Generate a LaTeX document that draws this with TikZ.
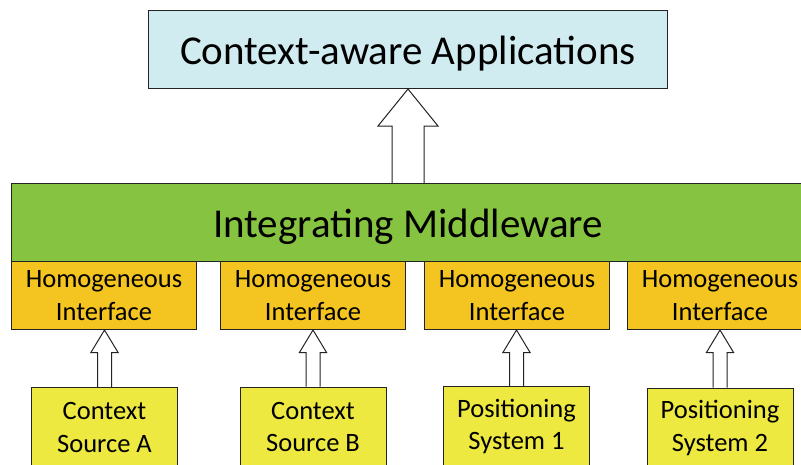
\documentclass[tikz,border=0pt]{standalone}
\usepackage{fontspec}
\setmainfont{Carlito}
\usetikzlibrary{calc}

\definecolor{appfill}{RGB}{208,236,240}
\definecolor{midfill}{RGB}{134,195,64}
\definecolor{ifacefill}{RGB}{244,196,32}
\definecolor{srcfill}{RGB}{238,233,64}
\definecolor{edgecol}{RGB}{35,35,35}

% hollow block arrow from the top of #1 up to the bottom of #2
% #3 shaft half width, #4 head half width, #5 head length
\newcommand\blockarrow[5]{%
  \draw[arrowbody] let \p1=(#1.north), \p2=(#2.south) in
    (\x1-#3,\y1) -- (\x1-#3,\y2-#5) -- (\x1-#4,\y2-#5) -- (\x1,\y2)
    -- (\x1+#4,\y2-#5) -- (\x1+#3,\y2-#5) -- (\x1+#3,\y1);
}

\begin{document}
\begin{tikzpicture}[x=1pt,y=-1pt,
  box/.style={draw=edgecol, line width=1pt, inner sep=0pt, anchor=north west, align=center},
  bigtext/.style={font=\fontsize{41}{48}\selectfont, text height=40pt, text depth=11pt},
  smalltext/.style={font=\fontsize{26.5}{32.4}\selectfont},
  appbox/.style={box, bigtext, fill=appfill, minimum width=519pt, minimum height=78pt},
  midbox/.style={box, bigtext, fill=midfill, minimum width=793pt, minimum height=78pt},
  ifacebox/.style={box, smalltext, fill=ifacefill, minimum width=185pt, minimum height=68pt},
  srcbox/.style={box, smalltext, fill=srcfill, minimum width=146pt, minimum height=80pt},
  arrowbody/.style={draw=edgecol, line width=1pt, fill=white, line join=miter}]

\useasboundingbox (0,0) rectangle (801,464);
\clip (0,0) rectangle (801,464);

% outlines of the boxes, placed first so the arrows can sit underneath
\path
  (148,10)  node[appbox, fill=none, draw=none] (app) {}
  (11,183)  node[midbox, fill=none, draw=none] (mid) {}
  (11,261)  node[ifacebox, fill=none, draw=none] (if1) {}
  (220,261) node[ifacebox, fill=none, draw=none] (if2) {}
  (424,261) node[ifacebox, fill=none, draw=none] (if3) {}
  (627,261) node[ifacebox, fill=none, draw=none] (if4) {}
  (31,387)  node[srcbox, fill=none, draw=none] (srcA) {}
  (239.5,386.5) node[srcbox, fill=none, draw=none] (srcB) {}
  (443,386) node[srcbox, fill=none, draw=none] (pos1) {}
  (646.5,387.5) node[srcbox, fill=none, draw=none] (pos2) {};

% arrows
\blockarrow{mid}{app}{16pt}{30pt}{37pt}
\blockarrow{srcA}{if1}{7pt}{13.7pt}{22.7pt}
\blockarrow{srcB}{if2}{7pt}{13.7pt}{22.7pt}
\blockarrow{pos1}{if3}{7pt}{13.7pt}{22.7pt}
\blockarrow{pos2}{if4}{7pt}{13.7pt}{22.7pt}

% boxes
\node[appbox] (appT) at (148,10) {Context-aware Applications};
\node[midbox] (midT) at (11,183) {Integrating Middleware};
\node[ifacebox] (if1T) at (11,261) {Homogeneous\\Interface};
\node[ifacebox] (if2T) at (220,261) {Homogeneous\\Interface};
\node[ifacebox] (if3T) at (424,261) {Homogeneous\\Interface};
\node[ifacebox] (if4T) at (627,261) {Homogeneous\\Interface};
\node[srcbox] (srcAT) at (31,387) {Context\\Source A};
\node[srcbox] (srcBT) at (239.5,386.5) {Context\\Source B};
\node[srcbox] (pos1T) at (443,386) {Positioning\\System 1};
\node[srcbox] (pos2T) at (646.5,387.5) {Positioning\\System 2};
\end{tikzpicture}
\end{document}
